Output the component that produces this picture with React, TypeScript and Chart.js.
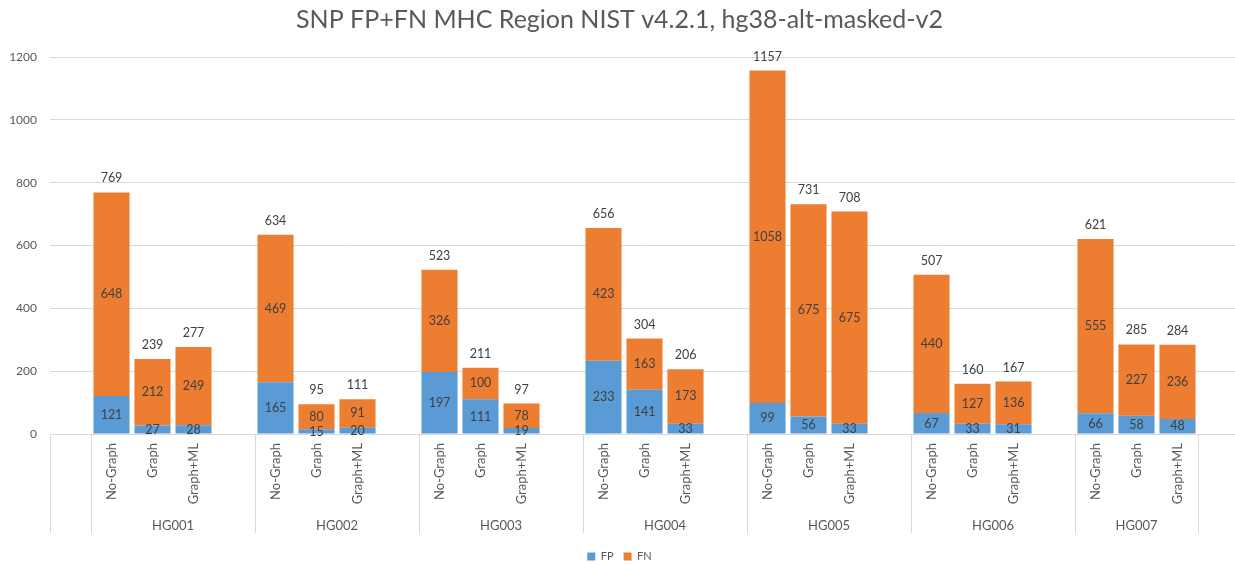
import React, { useEffect, useRef } from "react";
import { Chart, registerables } from "chart.js";

Chart.register(...registerables);

const titleText = "SNP FP+FN MHC Region NIST v4.2.1, hg38-alt-masked-v2";
const groups = ["HG001", "HG002", "HG003", "HG004", "HG005", "HG006", "HG007"];
const methods = ["No-Graph", "Graph", "Graph+ML"];
// values listed group by group, in method order
const fpValues = [121, 27, 28, 165, 15, 20, 197, 111, 19, 233, 141, 33, 99, 56, 33, 67, 33, 31, 66, 58, 48];
const fnValues = [648, 212, 249, 469, 80, 91, 326, 100, 78, 423, 163, 173, 1058, 675, 675, 440, 127, 136, 555, 227, 236];
const yMax = 1200;
const yStep = 200;

const FONT = "Lato, 'Noto Sans', sans-serif";
const FP_COLOR = "#5B9BD5";
const FN_COLOR = "#ED7D31";
const AXIS_TEXT = "#595959";
const LABEL_TEXT = "#404040";
const GRID = "#d9d9d9";

type Slot = { method: string; group: string; index: number };

function buildSlots(): Slot[] {
  const slots: Slot[] = [{ method: "", group: "", index: -1 }];
  groups.forEach((g, gi) => {
    methods.forEach((m, mi) => slots.push({ method: m, group: g, index: gi * methods.length + mi }));
    if (gi < groups.length - 1) slots.push({ method: "", group: g, index: -1 });
  });
  slots.push({ method: "", group: " ", index: -1 });
  return slots;
}

const slots = buildSlots();

const multiLevelPlugin = {
  id: "multiLevel",
  afterDraw(chart: any) {
    const { ctx, chartArea, scales } = chart;
    const xs = scales.x;
    const ys = scales.y;
    const slotW = xs.getPixelForValue(1) - xs.getPixelForValue(0);
    const bottom = chartArea.bottom;
    ctx.save();

    // group spans
    const spans: { group: string; start: number; end: number }[] = [];
    slots.forEach((s, i) => {
      const last = spans[spans.length - 1];
      if (last && last.group === s.group) last.end = i;
      else spans.push({ group: s.group, start: i, end: i });
    });

    ctx.strokeStyle = GRID;
    ctx.lineWidth = 1;
    spans.forEach((sp) => {
      const left = Math.round(xs.getPixelForValue(sp.start) - slotW / 2) + 0.5;
      ctx.beginPath();
      ctx.moveTo(left, bottom);
      ctx.lineTo(left, bottom + 99);
      ctx.stroke();
    });

    // group labels
    ctx.fillStyle = AXIS_TEXT;
    ctx.font = `13px ${FONT}`;
    ctx.textAlign = "center";
    ctx.textBaseline = "middle";
    spans.forEach((sp) => {
      if (!sp.group.trim()) return;
      const left = xs.getPixelForValue(sp.start) - slotW / 2;
      const right = xs.getPixelForValue(sp.end) + slotW / 2;
      ctx.fillText(sp.group, (left + right) / 2, bottom + 92);
    });

    // rotated method labels
    slots.forEach((s, i) => {
      if (!s.method) return;
      const xc = xs.getPixelForValue(i);
      ctx.save();
      ctx.translate(xc, bottom + 9);
      ctx.rotate(-Math.PI / 2);
      ctx.textAlign = "right";
      ctx.textBaseline = "middle";
      ctx.fillText(s.method, 0, 0);
      ctx.restore();
    });

    // data labels
    ctx.fillStyle = LABEL_TEXT;
    ctx.font = `12.5px ${FONT}`;
    ctx.textAlign = "center";
    ctx.textBaseline = "middle";
    slots.forEach((s, i) => {
      if (s.index < 0) return;
      const fp = fpValues[s.index];
      const fn = fnValues[s.index];
      const total = fp + fn;
      const xc = xs.getPixelForValue(i);
      const y0 = ys.getPixelForValue(0);
      const yFp = ys.getPixelForValue(fp);
      const yTot = ys.getPixelForValue(total);
      ctx.fillText(String(fp), xc, (y0 + yFp) / 2);
      ctx.fillText(String(fn), xc, (yFp + yTot) / 2);
      ctx.fillText(String(total), xc, yTot - 14);
    });

    ctx.restore();
  },
};

export default function App() {
  const ref = useRef<HTMLCanvasElement>(null);

  useEffect(() => {
    const labels = slots.map((s) => s.method);
    const fpData = slots.map((s) => (s.index >= 0 ? fpValues[s.index] : null));
    const fnData = slots.map((s) => (s.index >= 0 ? fnValues[s.index] : null));

    const chart = new Chart(ref.current as HTMLCanvasElement, {
      type: "bar",
      data: {
        labels,
        datasets: [
          { label: "FP", data: fpData, backgroundColor: FP_COLOR, barPercentage: 0.88, categoryPercentage: 1 },
          { label: "FN", data: fnData, backgroundColor: FN_COLOR, barPercentage: 0.88, categoryPercentage: 1 },
        ],
      },
      options: {
        responsive: false,
        animation: false,
        devicePixelRatio: 1,
        layout: { padding: { left: 0, right: 2, top: 0, bottom: 0 } },
        plugins: {
          title: {
            display: true,
            text: titleText,
            color: AXIS_TEXT,
            font: { family: FONT, size: 25, weight: "normal" },
            padding: { top: 5, bottom: 22 },
          },
          legend: {
            position: "bottom",
            labels: {
              color: AXIS_TEXT,
              font: { family: FONT, size: 11 },
              boxWidth: 8,
              boxHeight: 8,
              padding: 10,
            },
          },
          tooltip: { enabled: false },
        },
        scales: {
          x: {
            stacked: true,
            grid: { display: false },
            border: { display: false },
            ticks: { display: false },
            afterFit: (s: any) => {
              s.height = 107;
            },
          },
          y: {
            stacked: true,
            min: 0,
            max: yMax,
            ticks: {
              stepSize: yStep,
              color: AXIS_TEXT,
              font: { family: FONT, size: 12 },
              padding: 13,
              callback: (v: any) => String(v),
            },
            grid: { color: GRID, drawTicks: false },
            border: { display: false },
            afterFit: (s: any) => {
              s.width = 50;
            },
          },
        },
      },
      plugins: [multiLevelPlugin],
    } as any);

    return () => chart.destroy();
  }, []);

  return (
    <div
      style={{
        position: "absolute",
        left: 0,
        top: 0,
        width: 1235,
        height: 564,
        overflow: "hidden",
        background: "#ffffff",
      }}
    >
      <canvas ref={ref} width={1241} height={572} style={{ display: "block" }} />
    </div>
  );
}
